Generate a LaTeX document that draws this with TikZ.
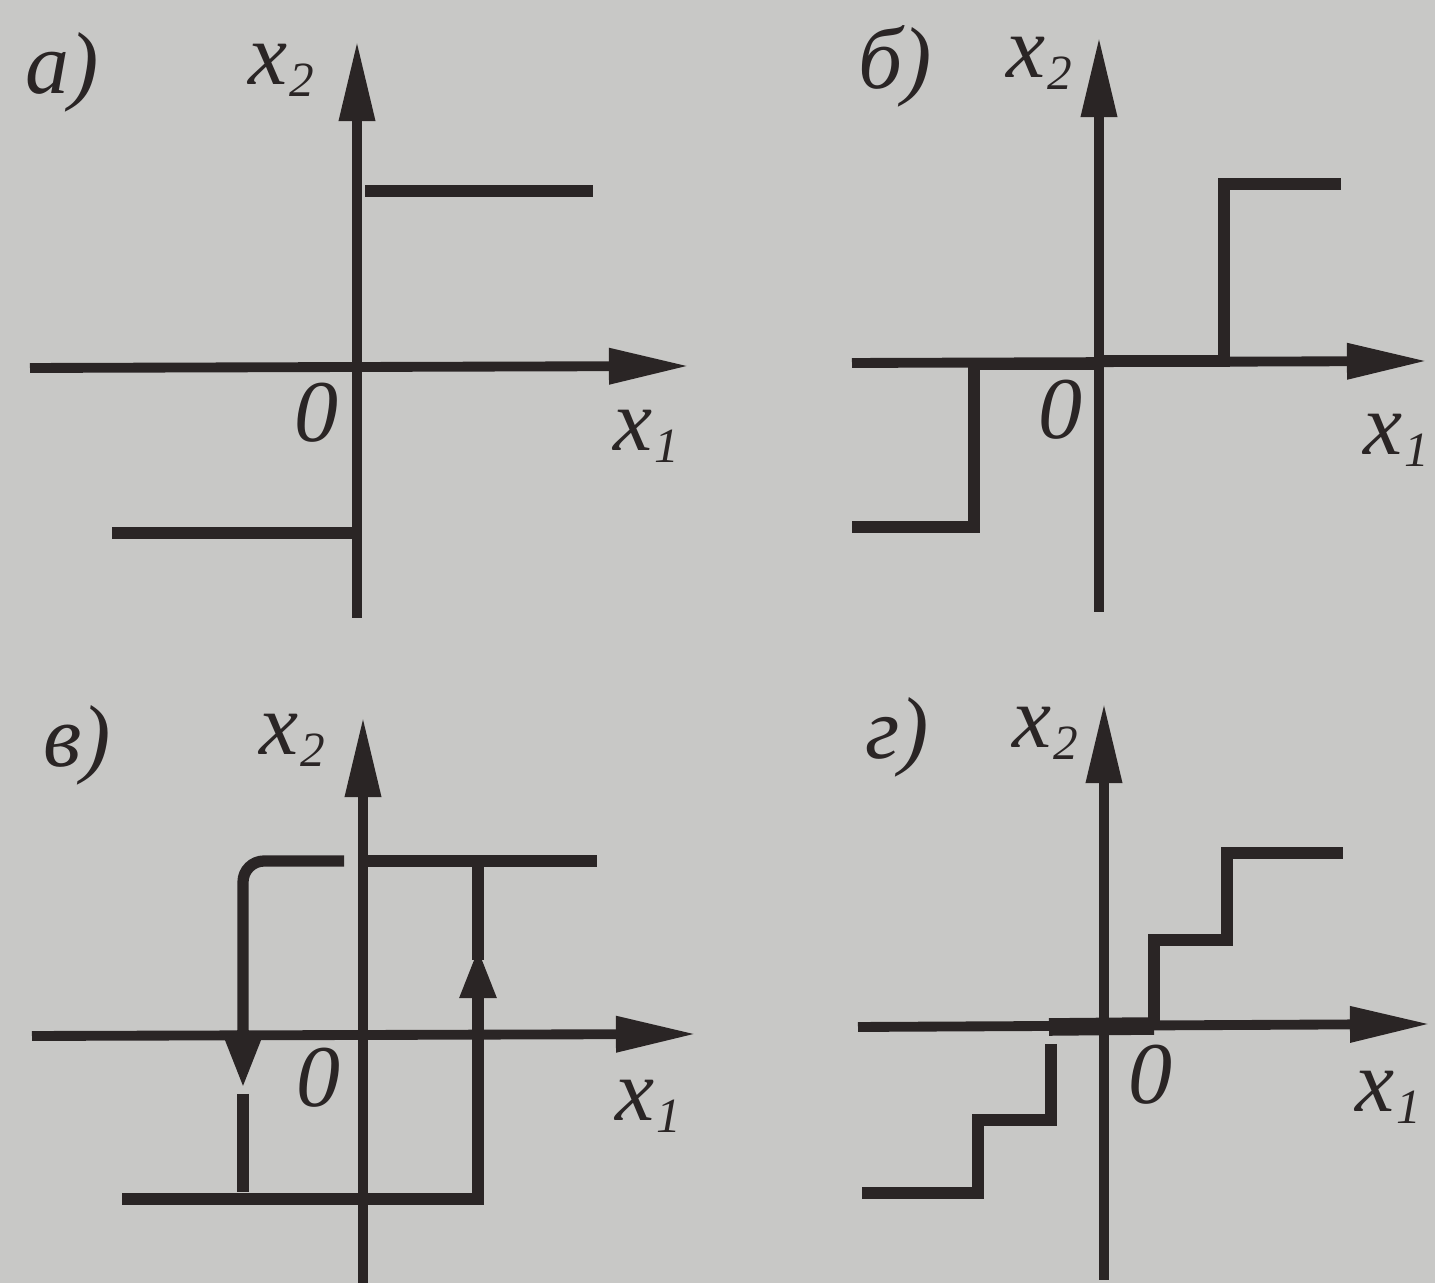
\documentclass[tikz,border=0pt]{standalone}
\usepackage{fontspec}
\setmainfont{Liberation Serif}
\usetikzlibrary{arrows.meta}
\definecolor{bg}{RGB}{200,200,198}
\definecolor{ink}{RGB}{42,37,37}
\tikzset{
  axis/.style={draw=ink, line width=2.8pt, -{Triangle[length=8mm,width=3.4mm]}},
  curve/.style={draw=ink, line width=3.2pt},
  lbl/.style={text=ink, inner sep=0pt, font=\fontsize{25}{28}\selectfont\itshape},
  hyst/.style={draw=ink, line width=3.2pt, -{Triangle[length=5mm,width=3.4mm]}}
}
\newcommand{\xsub}[1]{x\kern0.5pt\raisebox{-0.3ex}{\fontsize{14}{14}\selectfont #1}}
\begin{document}
\begin{tikzpicture}[x=0.01cm,y=-0.01cm]
\fill[bg] (0,0) rectangle (1435,1283);
\useasboundingbox (0,0) rectangle (1435,1283);

% ---------- a)
\coordinate (oa) at (357,367);
\draw[axis] (30,368) -- (689,366);
\draw[axis] (357,618) -- (357,41);
\draw[curve] (365,191) -- (593,191);
\draw[curve] (112,533) -- (357,533);
\node[lbl] (la) at (62,72) {а)};
\node[lbl] (ya) at (281,70) {\xsub{2}};
\node[lbl] (za) at (316,413) {0};
\node[lbl] (xa) at (646,436) {\xsub{1}};

% ---------- б)
\coordinate (ob) at (1099,362);
\draw[axis] (852,363) -- (1427,361);
\draw[axis] (1099,612) -- (1099,37);
\draw[curve] (852,527) -- (974,527) -- (974,364) -- (1099,364);
\draw[curve] (1099,361) -- (1224,361) -- (1224,184) -- (1341,184);
\node[lbl] (lb) at (895,66) {б)};
\node[lbl] (yb) at (1039,63) {\xsub{2}};
\node[lbl] (zb) at (1060,410) {0};
\node[lbl] (xb) at (1396,440) {\xsub{1}};

% ---------- в)
\coordinate (ov) at (363,1036);
\draw[axis] (32,1036) -- (696,1034);
\draw[axis] (363,1283) -- (363,717);
\draw[curve, rounded corners=6pt] (344,861) -- (243,861) -- (243,1040);
\draw[hyst] (243,1030) -- (243,1088);
\draw[curve] (243,1094) -- (243,1192);
\draw[curve] (122,1199) -- (478,1199) -- (478,1000);
\draw[hyst] (478,1010) -- (478,948);
\draw[curve] (478,960) -- (478,862);
\draw[curve] (365,861) -- (597,861);
\node[lbl] (lv) at (77,745) {в)};
\node[lbl] (yv) at (292,740) {\xsub{2}};
\node[lbl] (zv) at (318,1078) {0};
\node[lbl] (xv) at (648,1106) {\xsub{1}};

% ---------- г)
\coordinate (og) at (1104,1026);
\draw[axis] (858,1027) -- (1430,1024);
\draw[axis] (1104,1280) -- (1104,703);
\draw[draw=ink, line width=5pt] (1049,1027) -- (1154,1026);
\draw[curve] (1154,1024) -- (1154,940) -- (1227,940) -- (1227,853) -- (1343,853);
\draw[curve] (1051,1044) -- (1051,1120) -- (978,1120) -- (978,1193) -- (862,1193);
\node[lbl] (lg) at (897,737) {г)};
\node[lbl] (yg) at (1045,733) {\xsub{2}};
\node[lbl] (zg) at (1150,1075) {0};
\node[lbl] (xg) at (1388,1097) {\xsub{1}};
\end{tikzpicture}
\end{document}
